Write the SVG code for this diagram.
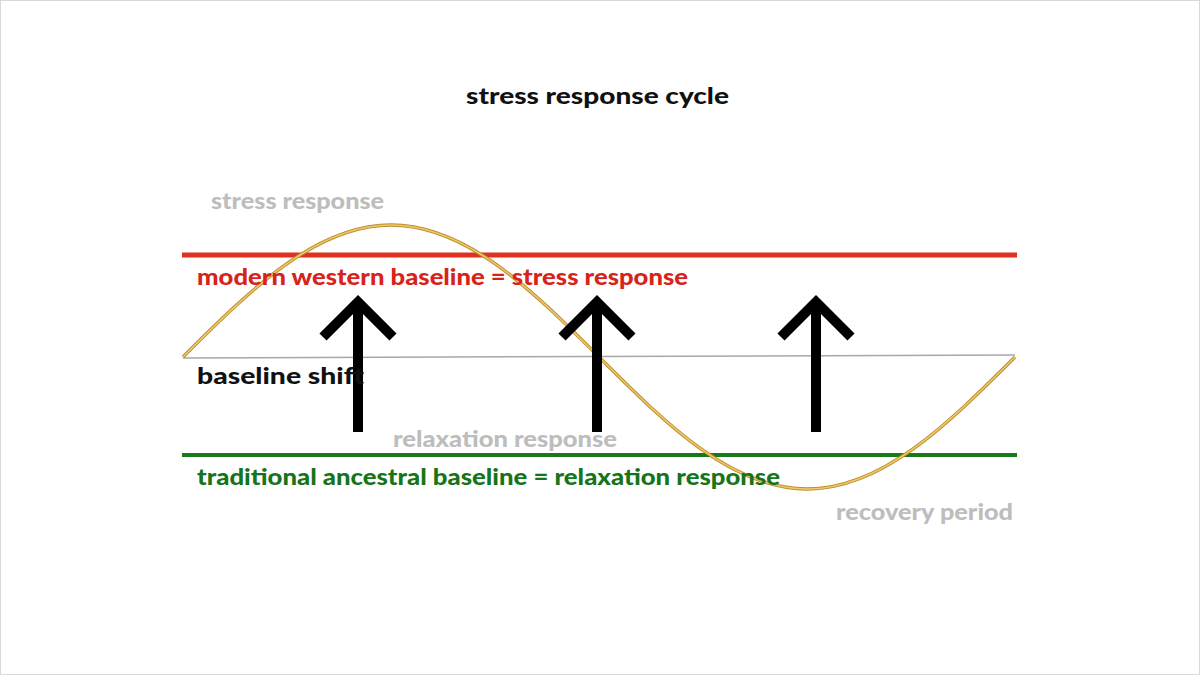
<svg xmlns="http://www.w3.org/2000/svg" width="1200" height="675" viewBox="0 0 1200 675">
<style>
text{font-family:Lato,"Open Sans","Liberation Sans",sans-serif;font-weight:900;font-size:22px}
.gray{fill:#bdbdbd}
.red{fill:#d8231b}
.green{fill:#16741a}
.black{fill:#111}
.arrow{fill:none;stroke:#000;stroke-width:10;stroke-linejoin:miter;stroke-linecap:butt}
.wave-out{fill:none;stroke:#b8912e;stroke-width:3.4}
.wave-in{fill:none;stroke:#f2c66a;stroke-width:1.5}
</style>
<defs>
<path id="wavepath" d="M183,357 C250.8,289.4 315.7,225 391,225 C466.3,225 531.2,289.4 599,357 C666.8,424.6 731.7,489 807,489 C882.3,489 947.2,424.6 1015,357"/>
</defs>
<rect x="0.5" y="0.5" width="1199" height="674" fill="#fff" stroke="#d9d9d9"/>
<g id="title"><text class="black" x="466" y="104" font-size="23" textLength="263" lengthAdjust="spacingAndGlyphs">stress response cycle</text></g>
<g id="baseline-shift-line"><line x1="183" y1="358" x2="1015" y2="355" stroke="#a8a8a8" stroke-width="1.5"/></g>
<g id="red-baseline"><line x1="182" y1="255" x2="1017" y2="255" stroke="#e0301e" stroke-width="5"/></g>
<g id="green-baseline"><line x1="182" y1="455" x2="1017" y2="455" stroke="#1a7a1a" stroke-width="4"/></g>
<g id="wave">
<use href="#wavepath" class="wave-out"/>
<use href="#wavepath" class="wave-in"/>
</g>
<g id="connectors">
<polyline class="arrow" points="358,432 358,302"/>
<polyline class="arrow" points="323,337 358,302 393,337"/>
<polyline class="arrow" points="597,432 597,302"/>
<polyline class="arrow" points="562,337 597,302 632,337"/>
<polyline class="arrow" points="816,432 816,302"/>
<polyline class="arrow" points="781,337 816,302 851,337"/>
</g>
<g id="label-stress-response"><text class="gray" x="211" y="209" textLength="173" lengthAdjust="spacingAndGlyphs">stress response</text></g>
<g id="label-modern"><text class="red" x="197" y="285" textLength="491" lengthAdjust="spacingAndGlyphs">modern western baseline = stress response</text></g>
<g id="label-baseline-shift"><text class="black" x="197" y="384" textLength="167" lengthAdjust="spacingAndGlyphs">baseline shift</text></g>
<g id="label-relaxation"><text class="gray" x="393" y="447" textLength="224" lengthAdjust="spacingAndGlyphs">relaxation response</text></g>
<g id="label-traditional"><text class="green" x="197" y="485" textLength="583" lengthAdjust="spacingAndGlyphs">traditional ancestral baseline = relaxation response</text></g>
<g id="label-recovery"><text class="gray" x="836" y="520" textLength="177" lengthAdjust="spacingAndGlyphs">recovery period</text></g>
</svg>
